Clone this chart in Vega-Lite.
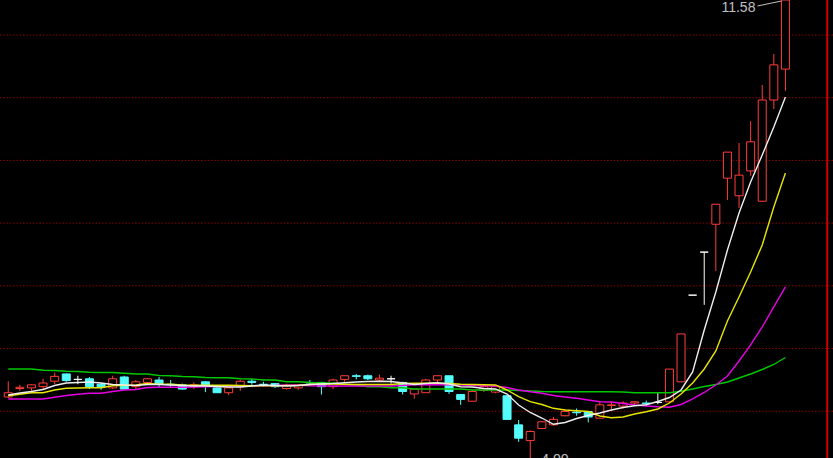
{
  "$schema": "https://vega.github.io/schema/vega-lite/v6.json",
  "width": 833,
  "height": 458,
  "autosize": {"type": "none"},
  "padding": 0,
  "background": "#000000",
  "config": {"view": {"stroke": null}, "axis": {"disable": true}},
  "datasets": {
    "k": [
      {"i":0,"o":5.03,"c":5.10,"h":5.29,"l":5.01,"d":"up","m5":5.063,"m10":5.051,"m20":4.997,"m60":5.491},
      {"i":1,"o":5.17,"c":5.19,"h":5.23,"l":5.13,"d":"up","m5":5.096,"m10":5.074,"m20":4.997,"m60":5.491},
      {"i":2,"o":5.18,"c":5.23,"h":5.24,"l":5.13,"d":"up","m5":5.120,"m10":5.100,"m20":4.997,"m60":5.491},
      {"i":3,"o":5.20,"c":5.26,"h":5.33,"l":5.16,"d":"up","m5":5.153,"m10":5.100,"m20":4.997,"m60":5.470},
      {"i":4,"o":5.29,"c":5.37,"h":5.43,"l":5.24,"d":"up","m5":5.219,"m10":5.145,"m20":5.025,"m60":5.467},
      {"i":5,"o":5.41,"c":5.30,"h":5.42,"l":5.28,"d":"down","m5":5.261,"m10":5.173,"m20":5.054,"m60":5.455},
      {"i":6,"o":5.32,"c":5.32,"h":5.38,"l":5.24,"d":"flat","m5":5.269,"m10":5.178,"m20":5.074,"m60":5.451},
      {"i":7,"o":5.33,"c":5.20,"h":5.36,"l":5.16,"d":"down","m5":5.277,"m10":5.183,"m20":5.091,"m60":5.438},
      {"i":8,"o":5.24,"c":5.20,"h":5.26,"l":5.15,"d":"down","m5":5.261,"m10":5.183,"m20":5.091,"m60":5.434},
      {"i":9,"o":5.18,"c":5.33,"h":5.38,"l":5.16,"d":"up","m5":5.236,"m10":5.216,"m20":5.120,"m60":5.434},
      {"i":10,"o":5.36,"c":5.16,"h":5.38,"l":5.15,"d":"down","m5":5.228,"m10":5.223,"m20":5.145,"m60":5.422},
      {"i":11,"o":5.20,"c":5.28,"h":5.31,"l":5.16,"d":"up","m5":5.219,"m10":5.228,"m20":5.153,"m60":5.409},
      {"i":12,"o":5.27,"c":5.33,"h":5.34,"l":5.23,"d":"up","m5":5.236,"m10":5.252,"m20":5.186,"m60":5.409},
      {"i":13,"o":5.31,"c":5.24,"h":5.36,"l":5.18,"d":"down","m5":5.236,"m10":5.239,"m20":5.190,"m60":5.384},
      {"i":14,"o":5.24,"c":5.23,"h":5.31,"l":5.18,"d":"down","m5":5.228,"m10":5.239,"m20":5.190,"m60":5.380},
      {"i":15,"o":5.23,"c":5.16,"h":5.25,"l":5.15,"d":"down","m5":5.219,"m10":5.228,"m20":5.190,"m60":5.368},
      {"i":16,"o":5.20,"c":5.23,"h":5.27,"l":5.16,"d":"up","m5":5.211,"m10":5.223,"m20":5.195,"m60":5.364},
      {"i":17,"o":5.28,"c":5.21,"h":5.29,"l":5.11,"d":"down","m5":5.211,"m10":5.223,"m20":5.199,"m60":5.351},
      {"i":18,"o":5.18,"c":5.10,"h":5.20,"l":5.10,"d":"down","m5":5.203,"m10":5.223,"m20":5.203,"m60":5.347},
      {"i":19,"o":5.10,"c":5.18,"h":5.20,"l":5.06,"d":"up","m5":5.195,"m10":5.223,"m20":5.211,"m60":5.347},
      {"i":20,"o":5.20,"c":5.29,"h":5.31,"l":5.13,"d":"up","m5":5.195,"m10":5.219,"m20":5.216,"m60":5.330},
      {"i":21,"o":5.29,"c":5.27,"h":5.33,"l":5.23,"d":"down","m5":5.211,"m10":5.216,"m20":5.216,"m60":5.327},
      {"i":22,"o":5.24,"c":5.23,"h":5.28,"l":5.20,"d":"down","m5":5.228,"m10":5.216,"m20":5.216,"m60":5.310},
      {"i":23,"o":5.25,"c":5.20,"h":5.26,"l":5.18,"d":"down","m5":5.219,"m10":5.216,"m20":5.219,"m60":5.310},
      {"i":24,"o":5.17,"c":5.22,"h":5.25,"l":5.15,"d":"up","m5":5.211,"m10":5.219,"m20":5.228,"m60":5.282},
      {"i":25,"o":5.18,"c":5.23,"h":5.24,"l":5.15,"d":"up","m5":5.219,"m10":5.219,"m20":5.228,"m60":5.282},
      {"i":26,"o":5.27,"c":5.26,"h":5.31,"l":5.23,"d":"down","m5":5.236,"m10":5.236,"m20":5.216,"m60":5.269},
      {"i":27,"o":5.27,"c":5.20,"h":5.28,"l":5.07,"d":"down","m5":5.244,"m10":5.244,"m20":5.211,"m60":5.261},
      {"i":28,"o":5.20,"c":5.31,"h":5.33,"l":5.16,"d":"up","m5":5.252,"m10":5.244,"m20":5.211,"m60":5.261},
      {"i":29,"o":5.32,"c":5.38,"h":5.38,"l":5.28,"d":"up","m5":5.265,"m10":5.239,"m20":5.211,"m60":5.236},
      {"i":30,"o":5.38,"c":5.37,"h":5.41,"l":5.32,"d":"down","m5":5.277,"m10":5.236,"m20":5.211,"m60":5.228},
      {"i":31,"o":5.38,"c":5.33,"h":5.40,"l":5.31,"d":"down","m5":5.285,"m10":5.236,"m20":5.211,"m60":5.199},
      {"i":32,"o":5.31,"c":5.34,"h":5.40,"l":5.29,"d":"up","m5":5.289,"m10":5.236,"m20":5.211,"m60":5.199},
      {"i":33,"o":5.33,"c":5.33,"h":5.38,"l":5.25,"d":"flat","m5":5.285,"m10":5.236,"m20":5.211,"m60":5.183},
      {"i":34,"o":5.27,"c":5.12,"h":5.28,"l":5.07,"d":"down","m5":5.261,"m10":5.252,"m20":5.219,"m60":5.183},
      {"i":35,"o":5.08,"c":5.16,"h":5.16,"l":5.00,"d":"up","m5":5.236,"m10":5.256,"m20":5.232,"m60":5.162},
      {"i":36,"o":5.10,"c":5.31,"h":5.33,"l":5.10,"d":"up","m5":5.252,"m10":5.256,"m20":5.232,"m60":5.162},
      {"i":37,"o":5.31,"c":5.38,"h":5.38,"l":5.25,"d":"up","m5":5.265,"m10":5.256,"m20":5.232,"m60":5.162},
      {"i":38,"o":5.38,"c":5.12,"h":5.38,"l":5.08,"d":"down","m5":5.244,"m10":5.252,"m20":5.232,"m60":5.162},
      {"i":39,"o":5.07,"c":4.99,"h":5.08,"l":4.90,"d":"down","m5":5.199,"m10":5.239,"m20":5.228,"m60":5.162},
      {"i":40,"o":4.96,"c":5.12,"h":5.15,"l":4.96,"d":"up","m5":5.195,"m10":5.236,"m20":5.219,"m60":5.145},
      {"i":41,"o":5.14,"c":5.20,"h":5.23,"l":5.11,"d":"up","m5":5.170,"m10":5.232,"m20":5.216,"m60":5.145},
      {"i":42,"o":5.11,"c":5.20,"h":5.21,"l":5.09,"d":"up","m5":5.162,"m10":5.228,"m20":5.211,"m60":5.145},
      {"i":43,"o":5.05,"c":4.66,"h":5.06,"l":4.66,"d":"down","m5":5.079,"m10":5.145,"m20":5.186,"m60":5.145},
      {"i":44,"o":4.57,"c":4.35,"h":4.65,"l":4.29,"d":"down","m5":4.898,"m10":5.034,"m20":5.145,"m60":5.137},
      {"i":45,"o":4.31,"c":4.46,"h":4.48,"l":4.00,"d":"up","m5":4.774,"m10":4.952,"m20":5.117,"m60":5.129},
      {"i":46,"o":4.51,"c":4.62,"h":4.63,"l":4.50,"d":"up","m5":4.683,"m10":4.906,"m20":5.091,"m60":5.120},
      {"i":47,"o":4.57,"c":4.66,"h":4.70,"l":4.56,"d":"up","m5":4.579,"m10":4.843,"m20":5.054,"m60":5.117},
      {"i":48,"o":4.72,"c":4.79,"h":4.83,"l":4.71,"d":"up","m5":4.609,"m10":4.815,"m20":5.030,"m60":5.117},
      {"i":49,"o":4.78,"c":4.77,"h":4.84,"l":4.72,"d":"down","m5":4.675,"m10":4.803,"m20":5.008,"m60":5.117},
      {"i":50,"o":4.79,"c":4.70,"h":4.80,"l":4.61,"d":"down","m5":4.724,"m10":4.790,"m20":4.980,"m60":5.117},
      {"i":51,"o":4.68,"c":4.90,"h":4.95,"l":4.68,"d":"up","m5":4.765,"m10":4.716,"m20":4.952,"m60":5.117},
      {"i":52,"o":4.89,"c":4.90,"h":4.95,"l":4.80,"d":"up","m5":4.815,"m10":4.688,"m20":4.947,"m60":5.117},
      {"i":53,"o":4.88,"c":4.93,"h":4.96,"l":4.84,"d":"up","m5":4.856,"m10":4.700,"m20":4.922,"m60":5.112},
      {"i":54,"o":4.93,"c":4.95,"h":4.96,"l":4.88,"d":"up","m5":4.886,"m10":4.749,"m20":4.898,"m60":5.100},
      {"i":55,"o":4.93,"c":4.92,"h":4.97,"l":4.88,"d":"down","m5":4.902,"m10":4.787,"m20":4.881,"m60":5.100},
      {"i":56,"o":4.94,"c":4.94,"h":5.10,"l":4.91,"d":"flat","m5":4.955,"m10":4.832,"m20":4.868,"m60":5.100},
      {"i":57,"o":4.95,"c":5.49,"h":5.49,"l":4.94,"d":"up","m5":5.021,"m10":4.930,"m20":4.860,"m60":5.100},
      {"i":58,"o":5.28,"c":6.07,"h":6.07,"l":5.28,"d":"up","m5":5.145,"m10":5.079,"m20":4.906,"m60":5.125},
      {"i":59,"o":6.71,"c":6.71,"h":6.71,"l":6.71,"d":"flat","m5":5.442,"m10":5.261,"m20":4.997,"m60":5.161},
      {"i":60,"o":7.42,"c":7.42,"h":7.42,"l":6.55,"d":"flat","m5":6.135,"m10":5.492,"m20":5.104,"m60":5.203},
      {"i":61,"o":7.88,"c":8.21,"h":8.21,"l":7.11,"d":"up","m5":6.762,"m10":5.789,"m20":5.228,"m60":5.236},
      {"i":62,"o":8.64,"c":9.07,"h":9.07,"l":8.28,"d":"up","m5":7.455,"m10":6.284,"m20":5.376,"m60":5.277},
      {"i":63,"o":8.35,"c":8.69,"h":9.22,"l":8.15,"d":"up","m5":8.066,"m10":6.680,"m20":5.624,"m60":5.343},
      {"i":64,"o":8.76,"c":9.24,"h":9.58,"l":8.68,"d":"up","m5":8.577,"m10":7.092,"m20":5.888,"m60":5.409},
      {"i":65,"o":8.26,"c":9.93,"h":10.18,"l":8.26,"d":"up","m5":9.023,"m10":7.538,"m20":6.185,"m60":5.483},
      {"i":66,"o":9.93,"c":10.51,"h":10.69,"l":9.78,"d":"up","m5":9.485,"m10":8.165,"m20":6.516,"m60":5.566},
      {"i":67,"o":10.44,"c":11.58,"h":11.58,"l":10.08,"d":"up","m5":9.980,"m10":8.726,"m20":6.846,"m60":5.681}
    ],
    "grid": [{"g":11.002},{"g":9.968},{"g":8.933},{"g":7.899},{"g":6.864},{"g":5.830},{"g":4.795}],
    "hi": [{"i":67,"p":11.58,"t":"11.58"}],
    "lo": [{"i":45,"p":4.00,"t":"4.00"}]
  },
  "layer": [
    {
      "data": {"name": "grid"},
      "mark": {"type": "rule", "color": "#8c0000", "strokeDash": [1.5, 1.8], "strokeWidth": 1},
      "encoding": {
        "y": {"field": "g", "type": "quantitative", "axis": null, "scale": {"domain": [4.023, 11.58], "nice": false, "zero": false}}
      }
    },
    {
      "data": {"name": "k"},
      "mark": {"type": "rule", "strokeWidth": 1, "clip": true},
      "encoding": {
        "x": {"field": "i", "type": "quantitative", "axis": null, "scale": {"domain": [-0.281, 70.67], "nice": false, "zero": false}},
        "y": {"field": "l", "type": "quantitative", "axis": null, "scale": {"domain": [4.023, 11.58], "nice": false, "zero": false}},
        "y2": {"field": "h"},
        "stroke": {"field": "d", "type": "nominal", "legend": null, "scale": {"domain": ["up", "down", "flat"], "range": ["#ff3c3c", "#54fcfc", "#ffffff"]}}
      }
    },
    {
      "data": {"name": "k"},
      "mark": {"type": "bar", "width": 8, "strokeWidth": 1, "clip": true},
      "encoding": {
        "x": {"field": "i", "type": "quantitative", "axis": null},
        "y": {"field": "o", "type": "quantitative", "axis": null},
        "y2": {"field": "c"},
        "stroke": {"field": "d", "type": "nominal", "legend": null, "scale": {"domain": ["up", "down", "flat"], "range": ["#ff3c3c", "#54fcfc", "#ffffff"]}},
        "fill": {"field": "d", "type": "nominal", "legend": null, "scale": {"domain": ["up", "down", "flat"], "range": ["#000000", "#54fcfc", "#ffffff"]}}
      }
    },
    {
      "data": {"name": "k"},
      "mark": {"type": "line", "color": "#00c800", "strokeWidth": 1.4, "clip": true},
      "encoding": {
        "x": {"field": "i", "type": "quantitative", "axis": null},
        "y": {"field": "m60", "type": "quantitative", "axis": null}
      }
    },
    {
      "data": {"name": "k"},
      "mark": {"type": "line", "color": "#e600e6", "strokeWidth": 1.4, "clip": true},
      "encoding": {
        "x": {"field": "i", "type": "quantitative", "axis": null},
        "y": {"field": "m20", "type": "quantitative", "axis": null}
      }
    },
    {
      "data": {"name": "k"},
      "mark": {"type": "line", "color": "#e6e600", "strokeWidth": 1.4, "clip": true},
      "encoding": {
        "x": {"field": "i", "type": "quantitative", "axis": null},
        "y": {"field": "m10", "type": "quantitative", "axis": null}
      }
    },
    {
      "data": {"name": "k"},
      "mark": {"type": "line", "color": "#eeeeee", "strokeWidth": 1.4, "clip": true},
      "encoding": {
        "x": {"field": "i", "type": "quantitative", "axis": null},
        "y": {"field": "m5", "type": "quantitative", "axis": null}
      }
    },
    {
      "data": {"name": "hi"},
      "mark": {"type": "text", "color": "#c0c0c0", "font": "Liberation Sans", "fontSize": 14, "align": "right", "baseline": "alphabetic", "dx": -30, "dy": 12},
      "encoding": {
        "x": {"field": "i", "type": "quantitative", "axis": null},
        "y": {"field": "p", "type": "quantitative", "axis": null},
        "text": {"field": "t"}
      }
    },
    {
      "data": {"name": "hi"},
      "mark": {"type": "rule", "color": "#c0c0c0", "strokeWidth": 1, "xOffset": -28, "yOffset": 6, "x2Offset": -4, "y2Offset": 1},
      "encoding": {
        "x": {"field": "i", "type": "quantitative", "axis": null},
        "x2": {"field": "i"},
        "y": {"field": "p", "type": "quantitative", "axis": null},
        "y2": {"field": "p"}
      }
    },
    {
      "data": {"name": "lo"},
      "mark": {"type": "text", "color": "#c0c0c0", "font": "Liberation Sans", "fontSize": 14, "align": "left", "baseline": "top", "dx": 11, "dy": -6},
      "encoding": {
        "x": {"field": "i", "type": "quantitative", "axis": null},
        "y": {"field": "p", "type": "quantitative", "axis": null},
        "text": {"field": "t"}
      }
    },
    {
      "data": {"values": [{}]},
      "mark": {"type": "rule", "color": "#c80000", "strokeWidth": 2},
      "encoding": {
        "x": {"datum": 70.6, "type": "quantitative", "axis": null}
      }
    }
  ]
}
